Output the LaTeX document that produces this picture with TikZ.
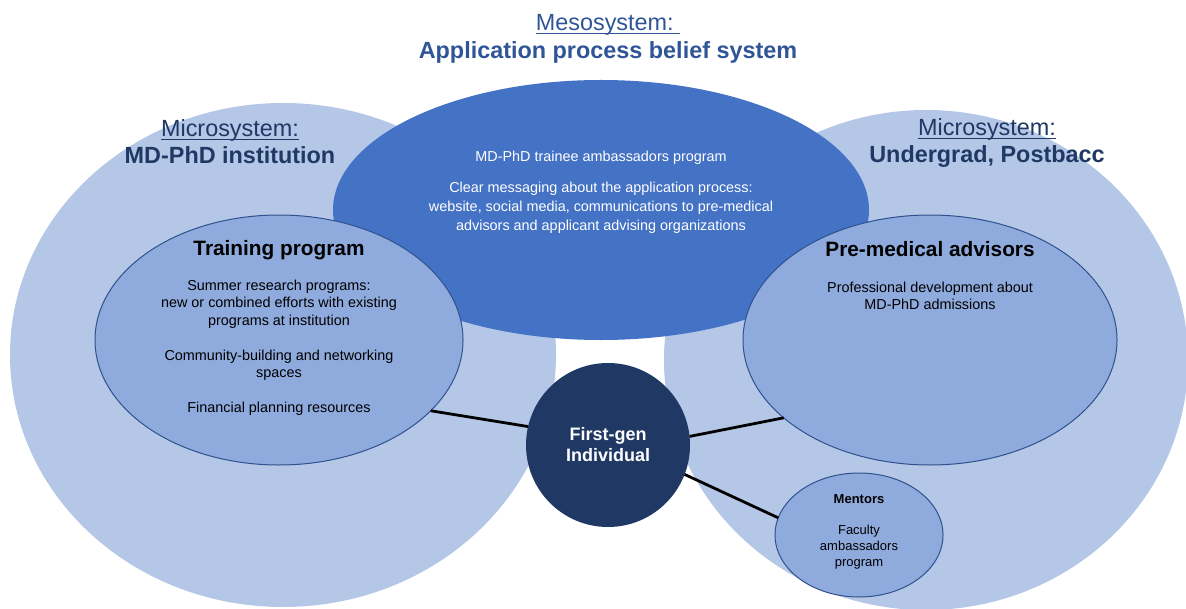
\documentclass[tikz,border=0pt]{standalone}
\usepackage{fontspec}
\setmainfont{Liberation Sans}
\usetikzlibrary{shapes.geometric}
\definecolor{lightb}{HTML}{B4C7E7}
\definecolor{midb}{HTML}{8FAADC}
\definecolor{mesob}{HTML}{4472C4}
\definecolor{navy}{HTML}{1F3864}
\definecolor{outl}{HTML}{2F528F}
\definecolor{mesot}{HTML}{2F5597}
\newcommand\myul[1]{\leavevmode\setbox0\hbox{#1}\rlap{\rule[-1.7pt]{\wd0}{0.6pt}}\box0}
\tikzset{
  bigell/.style={ellipse, fill=lightb, draw=none, inner sep=0pt, outer sep=0pt},
  mesoell/.style={ellipse, fill=mesob, draw=none, inner sep=0pt, outer sep=0pt},
  inell/.style={ellipse, fill=midb, draw=outl, line width=0.5pt, inner sep=0pt, outer sep=0pt},
  fgcirc/.style={circle, fill=navy, draw=none, inner sep=0pt, outer sep=0pt},
  ttl/.style={align=center, text=navy, font=\fontsize{11.7}{13.5}\selectfont},
  ttlm/.style={align=center, text=mesot, font=\fontsize{11.7}{14}\selectfont},
  hdr/.style={align=center, text=black, font=\fontsize{10.4}{12}\selectfont\bfseries},
  bodytxt/.style={align=center, text=black, font=\fontsize{7.2}{8.6}\selectfont},
  mesotxt/.style={align=center, text=white, font=\fontsize{7.2}{9.5}\selectfont},
  mentxt/.style={align=center, text=black, font=\fontsize{6.5}{8}\selectfont},
  fgtxt/.style={align=center, text=white, font=\fontsize{9}{10.5}\selectfont\bfseries},
  conn/.style={draw=black, line width=1.4pt}
}
\begin{document}
\begin{tikzpicture}[x=0.5pt,y=-0.5pt]
\useasboundingbox (0,0) rectangle (1186,609);
% microsystems
\node[bigell, minimum width=273pt, minimum height=252pt] (L) at (283,355) {};
\node[bigell, minimum width=262pt, minimum height=250pt] (R) at (926,360) {};
% mesosystem
\node[mesoell, minimum width=268pt, minimum height=130pt] (M) at (601,210) {};
% inner ellipses
\node[inell, minimum width=184pt, minimum height=125pt] (T) at (279,340) {};
\node[inell, minimum width=187pt, minimum height=125pt] (P) at (930,340) {};
\node[inell, minimum width=84pt, minimum height=62pt] (Me) at (859,535) {};
% individual
\node[fgcirc, minimum size=82pt] (F) at (608,445) {};
% connectors
\draw[conn] (T.-25) -- (F.167);
\draw[conn] (P.208) -- (F.6);
\draw[conn] (Me.168) -- (F.-21);
% titles
\node[ttlm] (mt) at (608,39) {\myul{Mesosystem:\ }\\\bfseries Application process belief system};
\node[ttl] (lt) at (230,142) {\myul{Microsystem:}\\\bfseries MD-PhD institution};
\node[ttl] (rt) at (987,143) {\myul{Microsystem:}\\\bfseries Undergrad, Postbacc};
% meso text
\node[mesotxt] (mb) at (601,192) {MD-PhD trainee ambassadors program\\[6pt]Clear messaging about the application process:\\website, social media, communications to pre-medical\\advisors and applicant advising organizations};
% training program
\node[hdr] (th) at (279,250) {Training program};
\node[bodytxt] (tb) at (279,348) {Summer research programs:\\new or combined efforts with existing\\programs at institution\\[9pt]Community-building and networking\\spaces\\[9pt]Financial planning resources};
% pre-medical advisors
\node[hdr] (ph) at (930,249) {Pre-medical advisors};
\node[bodytxt] (pb) at (930,296) {Professional development about\\MD-PhD admissions};
% mentors
\node[mentxt] (mn) at (859,532) {\textbf{Mentors}\\[7.5pt]Faculty\\ambassadors\\program};
% first-gen
\node[fgtxt] (ft) at (608,445) {First-gen\\Individual};
\end{tikzpicture}
\end{document}
